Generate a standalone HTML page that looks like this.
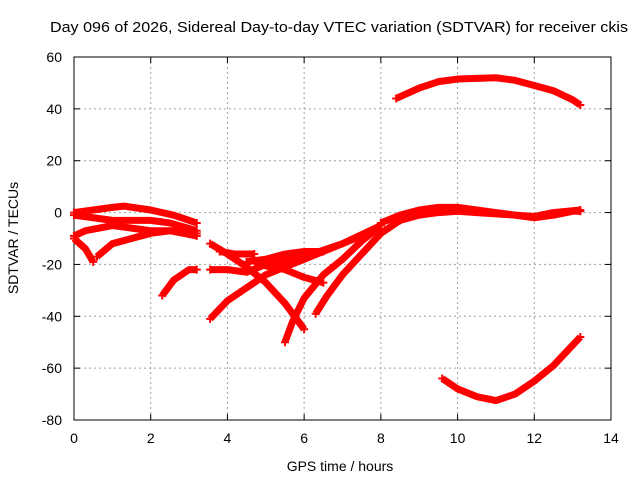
<!DOCTYPE html>
<html><head><meta charset="utf-8"><style>
body{margin:0;background:#fff}
svg{font-family:"Liberation Sans",sans-serif;font-size:14px}
</style></head><body>
<svg id="c" width="640" height="480">
<text x="339" y="32" text-anchor="middle" textLength="578" lengthAdjust="spacingAndGlyphs" style="font-size:15px">Day 096 of 2026, Sidereal Day-to-day VTEC variation (SDTVAR) for receiver ckis</text>
<text x="340" y="471" text-anchor="middle">GPS time / hours</text>
<text transform="translate(18,238) rotate(-90)" text-anchor="middle">SDTVAR / TECUs</text>
<g id="grid"></g>
<g id="axes"></g>
<g id="series"></g>
</svg>
<script>
const xTicks=[0,2,4,6,8,10,12,14];
const yTicks=[-80,-60,-40,-20,0,20,40,60];
const trackA=[[0,0],[0.5,1],[1,2],[1.3,2.5],[2,1],[2.6,-1],[3.2,-4]];
const trackB=[[0,-1],[0.5,-2],[1,-3],[1.5,-3],[2,-3],[2.5,-4],[3.2,-7]];
const trackC=[[0,-9],[0.3,-7],[1,-5],[1.5,-6],[2,-7],[2.5,-7],[3.2,-9]];
const trackD=[[0,-10],[0.3,-14],[0.5,-19]];
const trackE=[[0.6,-17],[1,-12],[1.5,-10],[2,-8],[2.5,-7],[3.2,-8]];
const trackF=[[2.3,-32],[2.6,-26],[3,-22],[3.2,-22]];
const trackG=[[3.55,-12],[4,-16],[4.5,-21],[5,-27],[5.5,-35],[5.8,-41],[6,-45]];
const trackH=[[3.55,-22],[4,-22],[4.5,-23],[5,-20],[6,-17],[7,-12],[8,-5]];
const trackI=[[3.55,-41],[4,-34],[4.5,-29],[5,-24],[5.5,-21],[6,-18],[6.5,-15],[7,-12],[7.5,-9],[8,-5]];
const trackJ=[[3.8,-15],[4.2,-16],[4.7,-16]];
const trackK=[[5.5,-50],[5.7,-42],[6,-33],[6.5,-24],[7,-18],[7.5,-11],[8,-5]];
const trackL=[[6.3,-39],[6.6,-32],[7,-24],[7.5,-16],[8,-8],[8.5,-3],[9,0]];
const trackM=[[4.5,-19],[5,-18],[5.5,-16],[6,-15],[6.5,-15]];
const trackN=[[4.8,-20],[5.5,-22],[6,-25],[6.5,-27]];
const trackZ=[[8,-4],[8.5,-1],[9,1],[9.5,2],[10,2],[10.5,1],[11,0],[11.5,-1],[12,-2],[12.5,-1],[13,0.5],[13.2,0.5]];
const trackZ2=[[8.5,-3],[9,-1],[9.5,0],[10,0.5],[10.5,0],[11,-0.5],[11.5,-1],[12,-1.5],[12.5,0],[13.2,1]];
const trackTop=[[8.4,44],[9,48],[9.5,50.5],[10,51.5],[11,52],[11.5,51],[12,49],[12.5,47],[13,43.5],[13.2,41.5]];
const trackBot=[[9.6,-64],[10,-68],[10.5,-71],[11,-72.5],[11.5,-70],[12,-65],[12.5,-59],[13.2,-48]];
const tracks=[trackA,trackB,trackC,trackD,trackE,trackF,trackG,trackH,trackI,trackJ,trackK,trackL,trackM,trackN,trackZ,trackZ2,trackTop,trackBot];
const X0=74,X1=611,Y0=420,Y1=57;
const sx=t=>X0+(t-0)/(14-0)*(X1-X0);
const sy=v=>Y0-(v+80)/(140)*(Y0-Y1);
const NS="http://www.w3.org/2000/svg";
function mk(tag,attrs,parent){const e=document.createElementNS(NS,tag);for(const k in attrs)e.setAttribute(k,attrs[k]);parent.appendChild(e);return e;}
const grid=document.getElementById('grid'),axes=document.getElementById('axes'),ser=document.getElementById('series');
xTicks.forEach(t=>{
  if(t>0&&t<14){const l=mk('line',{x1:sx(t),x2:sx(t),y1:Y1,y2:Y0,stroke:'#a0a0a0','stroke-dasharray':'2,3'},grid);
  }
  mk('line',{x1:sx(t),x2:sx(t),y1:Y0,y2:Y0-6,stroke:'#000'},axes);
  mk('line',{x1:sx(t),x2:sx(t),y1:Y1,y2:Y1+6,stroke:'#000'},axes);
  const tx=mk('text',{x:sx(t),y:Y0+23,'text-anchor':'middle'},axes);tx.textContent=t;
  
});
yTicks.forEach(v=>{
  if(v>-80&&v<60){const l=mk('line',{x1:X0,x2:X1,y1:sy(v),y2:sy(v),stroke:'#a0a0a0','stroke-dasharray':'2,3'},grid);
  }
  mk('line',{x1:X0,x2:X0+6,y1:sy(v),y2:sy(v),stroke:'#000'},axes);
  mk('line',{x1:X1,x2:X1-6,y1:sy(v),y2:sy(v),stroke:'#000'},axes);
  const tx=mk('text',{x:X0-12,y:sy(v)+5,'text-anchor':'end'},axes);tx.textContent=v;
  
});
const box=mk('rect',{x:X0,y:Y1,width:X1-X0,height:Y0-Y1,fill:'none',stroke:'#000'},axes);

tracks.forEach(tr=>{
  const p=mk('polyline',{points:tr.map(d=>sx(d[0])+','+sy(d[1])).join(' '),fill:'none',stroke:'#f00','stroke-width':7,'stroke-linejoin':'round'},ser);
  
  [tr[0],tr[tr.length-1]].forEach(d=>{
    const m=mk('path',{d:`M${sx(d[0])-4},${sy(d[1])}h8M${sx(d[0])},${sy(d[1])-4}v8`,stroke:'#f00','stroke-width':2},ser);
    
  });
});
</script>
</body></html>
